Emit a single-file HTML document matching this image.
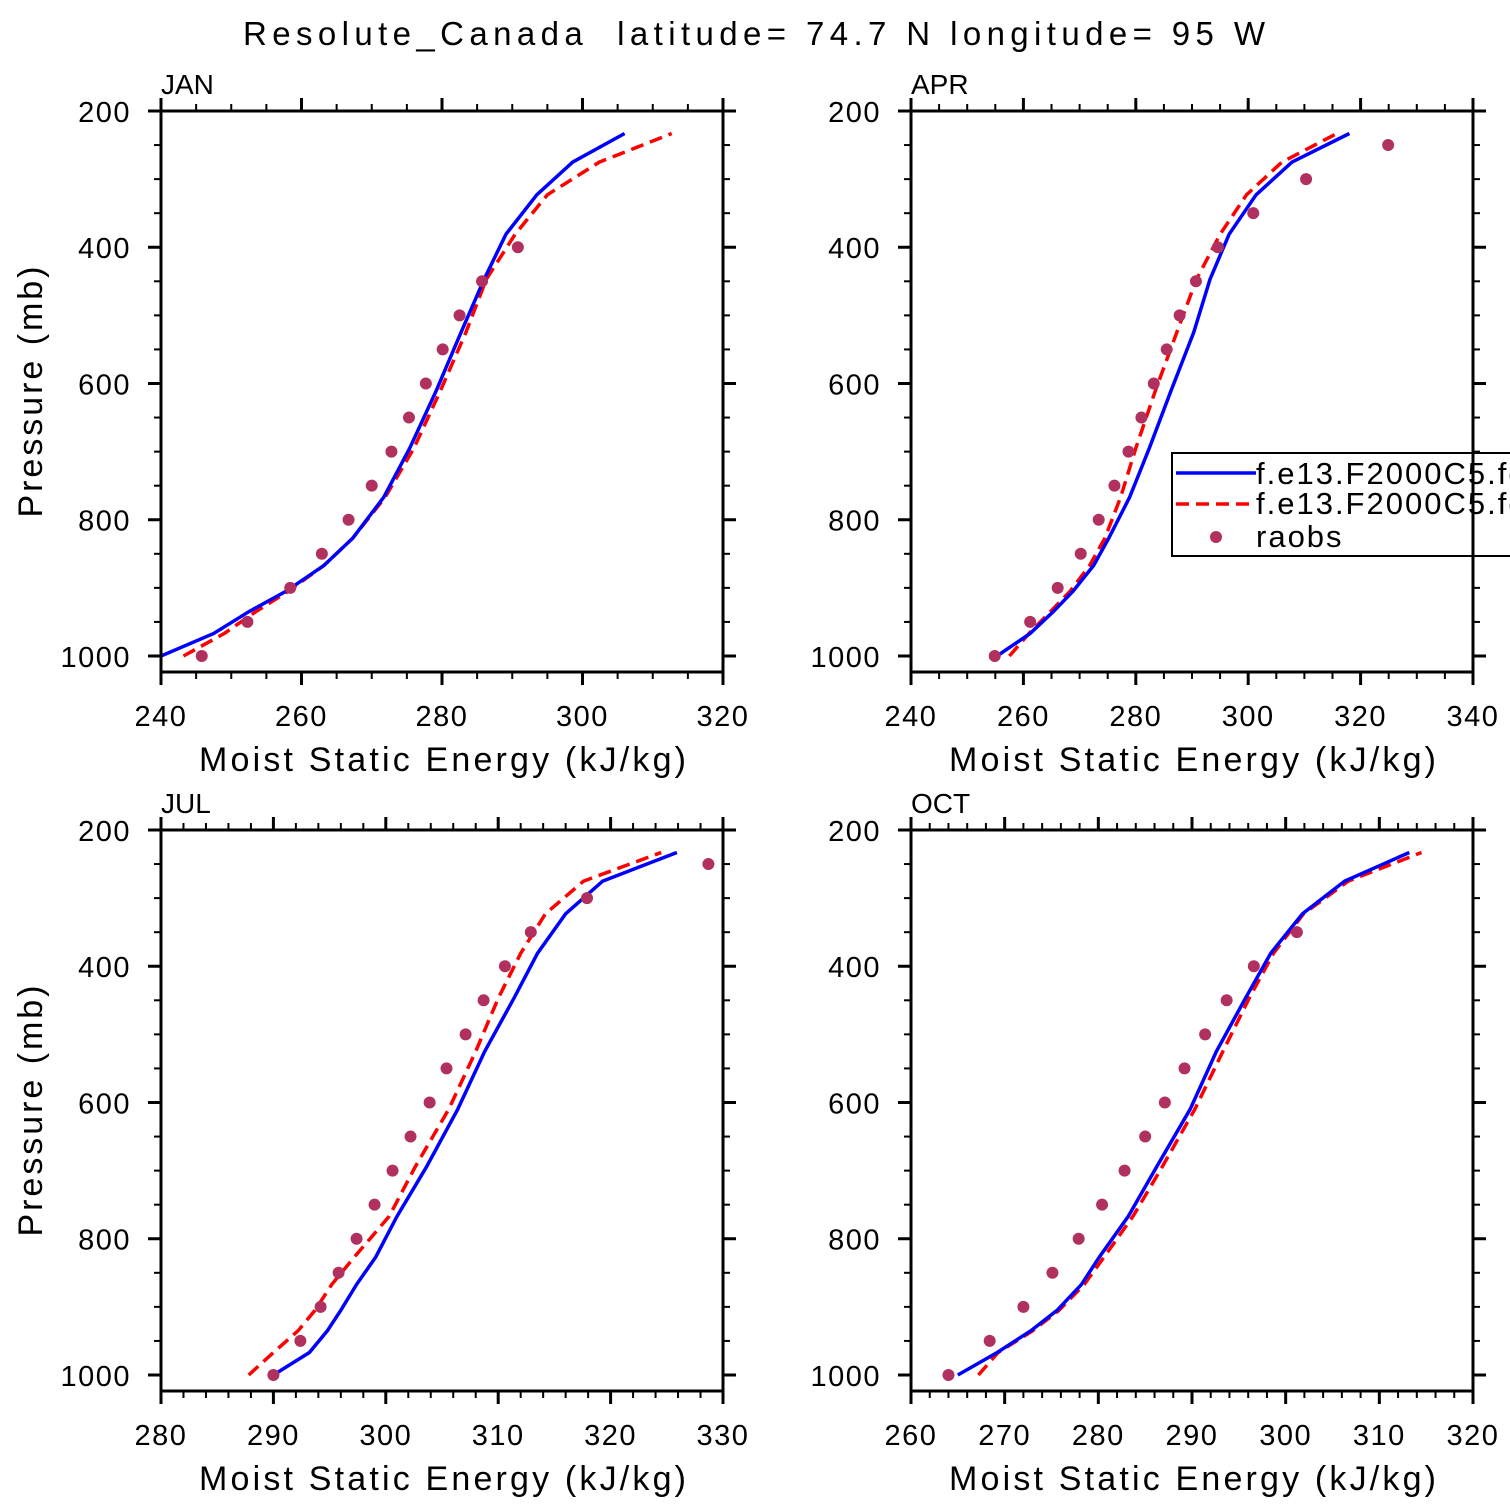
<!DOCTYPE html>
<html><head><meta charset="utf-8">
<style>
html,body{margin:0;padding:0;background:#fff;}
svg{display:block;font-family:"Liberation Sans","DejaVu Sans",sans-serif;}
</style></head>
<body>
<svg id="chart" width="1510" height="1510" viewBox="0 0 1510 1510" xmlns="http://www.w3.org/2000/svg">
<rect width="1510" height="1510" fill="#fff"/>
<text x="243" y="45" font-size="33" fill="#000" textLength="1022" lengthAdjust="spacing" xml:space="preserve">Resolute_Canada  latitude= 74.7 N longitude= 95 W</text>
<g id="panels"></g>
</svg>
<script>
// model levels (mb)
const modelLevels = [1000, 967, 935, 905, 867, 827, 767, 695, 610, 525, 447, 381, 323, 275, 233];
// raob levels (mb)
const obsLevels = [1000, 950, 900, 850, 800, 750, 700, 650, 600, 550, 500, 450, 400, 350, 300, 250];

const janBlue = [240.0, 247.5, 252.5, 257.8, 263.2, 267.3, 271.7, 275.4, 279.2, 282.7, 286.0, 289.1, 293.5, 298.6, 306.0];
const janRed  = [243.2, 249.0, 253.5, 258.1, 263.2, 267.3, 271.9, 276.0, 279.8, 283.4, 286.3, 290.4, 295.0, 302.4, 312.7];
const janObs  = [245.8, 252.3, 258.4, 262.9, 266.7, 270.0, 272.8, 275.3, 277.7, 280.1, 282.5, 285.7, 290.8];

const aprBlue = [255.3, 261.2, 265.3, 268.8, 272.5, 275.2, 278.9, 282.4, 286.3, 290.3, 293.2, 296.6, 301.4, 307.8, 318.0];
const aprRed  = [257.5, 261.0, 264.8, 268.3, 271.8, 274.5, 277.3, 280.0, 283.5, 287.3, 290.8, 295.0, 299.7, 306.0, 315.8];
const aprObs  = [254.9, 261.2, 266.1, 270.2, 273.4, 276.2, 278.7, 281.0, 283.2, 285.5, 287.8, 290.7, 294.6, 300.9, 310.3, 324.9];

const julBlue = [290.0, 293.2, 294.8, 296.0, 297.4, 299.1, 301.0, 303.6, 306.4, 308.8, 311.4, 313.5, 316.0, 319.3, 325.9];
const julRed  = [287.8, 290.0, 292.2, 293.7, 295.2, 297.2, 300.3, 302.6, 305.6, 308.0, 310.0, 312.0, 314.2, 317.6, 324.5];
const julObs  = [290.0, 292.4, 294.2, 295.8, 297.4, 299.0, 300.6, 302.2, 303.9, 305.4, 307.1, 308.7, 310.6, 312.9, 317.9, 328.7];

const octBlue = [265.0, 269.2, 272.8, 275.6, 278.2, 280.1, 283.2, 286.2, 289.8, 292.6, 295.7, 298.4, 301.8, 306.3, 313.2];
const octRed  = [267.2, 269.3, 273.0, 275.8, 278.5, 280.6, 283.7, 286.8, 290.3, 293.3, 296.1, 298.7, 301.9, 306.7, 314.5];
const octObs  = [264.0, 268.4, 272.0, 275.1, 277.9, 280.4, 282.8, 285.0, 287.1, 289.2, 291.4, 293.7, 296.6, 301.2];

const monthNames = ["JAN", "APR", "JUL", "OCT"];
const xMins = [240, 240, 280, 260];
const xMaxs = [320, 340, 330, 320];
const xMajorSteps = [20, 20, 10, 10];
const xMinorSteps = [5, 5, 2, 2];
const yTickLabels = [200, 400, 600, 800, 1000];

const NS = "http://www.w3.org/2000/svg";
const root = document.getElementById("panels");
function mk(tag, attrs, parent) {
  const e = document.createElementNS(NS, tag);
  for (const k in attrs) e.setAttribute(k, attrs[k]);
  (parent || root).appendChild(e);
  return e;
}

const origins = [[161, 111], [911, 111], [161, 830], [911, 830]];
const W = 562, H = 561;
const PTOP = 200, PBOT = 1023.5;
const blues = [janBlue, aprBlue, julBlue, octBlue];
const reds = [janRed, aprRed, julRed, octRed];
const obss = [janObs, aprObs, julObs, octObs];

for (let i = 0; i < 4; i++) {
  const [L, T] = origins[i];
  const xmin = xMins[i], xmax = xMaxs[i];
  const sx = v => L + (v - xmin) / (xmax - xmin) * W;
  const sy = p => T + (p - PTOP) / (PBOT - PTOP) * H;
  const m = monthNames[i].toLowerCase();

  const g = mk("g", {});
  
  

  const mkPts = arr => arr.map((v, k) => sx(v).toFixed(1) + "," + sy(modelLevels[k]).toFixed(1)).join(" ");
  const clipId = "clip" + i;
  const cp = mk("clipPath", {id: clipId}, g);
  mk("rect", {x: L, y: T, width: W, height: H}, cp);
  const red = mk("polyline", {points: mkPts(reds[i]), fill: "none", stroke: "#ff0000", "stroke-width": 3.5, "stroke-dasharray": "13,7", "clip-path": "url(#" + clipId + ")"}, g);
  
  
  const blue = mk("polyline", {points: mkPts(blues[i]), fill: "none", stroke: "#0000ff", "stroke-width": 3.5, "clip-path": "url(#" + clipId + ")"}, g);
  
  
  obss[i].forEach((v, k) => {
    const c = mk("circle", {cx: sx(v), cy: sy(obsLevels[k]), r: 6, fill: "#b03060"}, g);
    
    
  });

  const fr = mk("rect", {x: L, y: T, width: W, height: H, fill: "none", stroke: "#000", "stroke-width": 3}, g);
  
  

  for (let v = xmin; v <= xmax + 1e-6; v += xMinorSteps[i]) {
    const r = (v - xmin) % xMajorSteps[i];
    const major = Math.abs(r) < 1e-6 || Math.abs(r - xMajorSteps[i]) < 1e-6;
    const len = major ? 13 : 7;
    const x = sx(v);
    mk("line", {x1: x, y1: T + H, x2: x, y2: T + H + len, stroke: "#000", "stroke-width": major ? 3 : 2}, g);
    mk("line", {x1: x, y1: T, x2: x, y2: T - len, stroke: "#000", "stroke-width": major ? 3 : 2}, g);
    if (major) {
      const t = mk("text", {x: x, y: T + H + 54, "text-anchor": "middle", "font-size": 29, "letter-spacing": 1.5}, g);
      t.textContent = Math.round(v);
      
      
    }
  }
  for (let p = 200; p <= 1000; p += 50) {
    const major = p % 200 === 0;
    const len = major ? 13 : 7;
    const y = sy(p);
    mk("line", {x1: L, y1: y, x2: L - len, y2: y, stroke: "#000", "stroke-width": major ? 3 : 2}, g);
    mk("line", {x1: L + W, y1: y, x2: L + W + len, y2: y, stroke: "#000", "stroke-width": major ? 3 : 2}, g);
  }
  yTickLabels.forEach(p => {
    const t = mk("text", {x: L - 30, y: sy(p) + 11, "text-anchor": "end", "font-size": 29, "letter-spacing": 1.5}, g);
    t.textContent = p;
    
    
  });

  const ml = mk("text", {x: L, y: T - 17, "font-size": 28}, g);
  ml.textContent = monthNames[i];
  
  

  const xt = mk("text", {x: L + 38, y: T + H + 99, "font-size": 34, textLength: 487, lengthAdjust: "spacing"}, g);
  xt.textContent = "Moist Static Energy (kJ/kg)";
  
  

  if (i % 2 === 0) {
    const cy = T + 281;
    const yt = mk("text", {x: 42, y: cy, "text-anchor": "middle", "font-size": 34, textLength: 251, lengthAdjust: "spacing", transform: "rotate(-90 42 " + cy + ")"}, g);
    yt.textContent = "Pressure (mb)";
    
    
  }
}

const lg = mk("g", {});


mk("rect", {x: 1172, y: 453, width: 360, height: 103, fill: "#fff", stroke: "#000", "stroke-width": 2}, lg);
mk("line", {x1: 1176, y1: 473, x2: 1256, y2: 473, stroke: "#0000ff", "stroke-width": 3.5}, lg);
mk("line", {x1: 1176, y1: 504, x2: 1256, y2: 504, stroke: "#ff0000", "stroke-width": 3.5, "stroke-dasharray": "13,7"}, lg);
mk("circle", {cx: 1216, cy: 537, r: 6, fill: "#b03060"}, lg);
const l1 = mk("text", {x: 1256, y: 484, "font-size": 31, "letter-spacing": 2}, lg);
l1.textContent = "f.e13.F2000C5.fc5";


const l2 = mk("text", {x: 1256, y: 514, "font-size": 31, "letter-spacing": 2}, lg);
l2.textContent = "f.e13.F2000C5.fc5";


const l3 = mk("text", {x: 1256, y: 547, "font-size": 31, "letter-spacing": 2}, lg);
l3.textContent = "raobs";


mk("line", {x1: 1473, y1: 440, x2: 1473, y2: 570, stroke: "#000", "stroke-width": 3}, lg);
</script>
</body></html>
